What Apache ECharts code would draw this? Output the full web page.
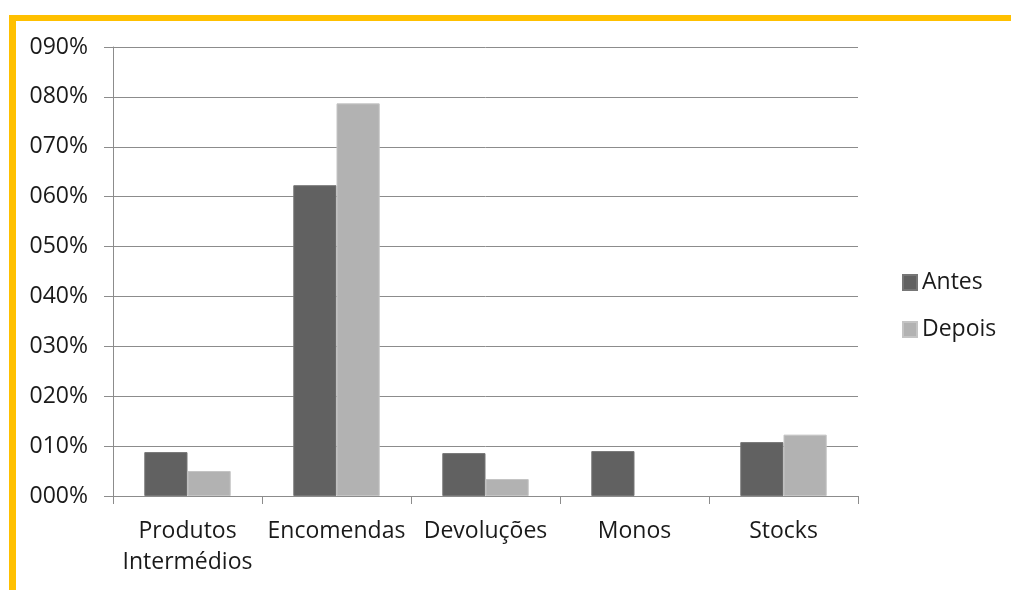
<!DOCTYPE html>
<html><head><meta charset="utf-8">
<script src="https://cdn.jsdelivr.net/npm/echarts@6/dist/echarts.min.js"></script>
<style>html,body{margin:0;padding:0;background:#fff}#c{width:1011px;height:590px}</style>
</head><body><div id="c"></div>
<script>
const categories = ['Produtos\nIntermédios', 'Encomendas', 'Devoluções', 'Monos', 'Stocks'];
const antes = [8.8, 62.3, 8.6, 9.0, 10.8];
const depois = [5.0, 78.7, 3.4, null, 12.3];
const seriesNames = ['Antes', 'Depois'];
const yMax = 90, yStep = 10;

const chart = echarts.init(document.getElementById('c'), null, {renderer: 'canvas'});
const font = '"Open Sans", sans-serif';
chart.setOption({
  animation: false,
  backgroundColor: '#fff',
  graphic: [
    {type: 'rect', shape: {x: 9, y: 15, width: 1002, height: 6}, style: {fill: '#FFC000'}},
    {type: 'rect', shape: {x: 9, y: 15, width: 7, height: 575}, style: {fill: '#FFC000'}}
  ],
  grid: {left: 113, right: 153, top: 47, bottom: 94, containLabel: false},
  legend: {
    orient: 'vertical', left: 902, top: 271, padding: 0, itemWidth: 14, itemHeight: 15, itemGap: 24,
    icon: 'rect', data: seriesNames,
    textStyle: {fontFamily: font, fontSize: 23, color: '#1a1a1a'}
  },
  xAxis: {
    type: 'category', data: categories,
    axisLine: {lineStyle: {color: '#8c8c8c', width: 1}},
    axisTick: {show: true, length: 8, lineStyle: {color: '#8c8c8c'}},
    axisLabel: {fontFamily: font, fontSize: 23, color: '#1a1a1a', margin: 20, lineHeight: 31, interval: 0}
  },
  yAxis: {
    type: 'value', min: 0, max: yMax, interval: yStep,
    axisLine: {show: true, lineStyle: {color: '#8c8c8c', width: 1}},
    axisTick: {show: true, length: 9, lineStyle: {color: '#8c8c8c'}},
    splitLine: {lineStyle: {color: '#8c8c8c', width: 1}},
    axisLabel: {fontFamily: font, fontSize: 23, color: '#1a1a1a', margin: 25,
      formatter: v => String(Math.round(v)).padStart(3, '0') + '%'}
  },
  series: [
    {name: seriesNames[0], type: 'bar', data: antes, barGap: '0%', barCategoryGap: '42%',
     itemStyle: {color: '#616161', borderColor: '#767676', borderWidth: 1}},
    {name: seriesNames[1], type: 'bar', data: depois,
     itemStyle: {color: '#b2b2b2', borderColor: '#c4c4c4', borderWidth: 1}}
  ]
});
</script></body></html>
